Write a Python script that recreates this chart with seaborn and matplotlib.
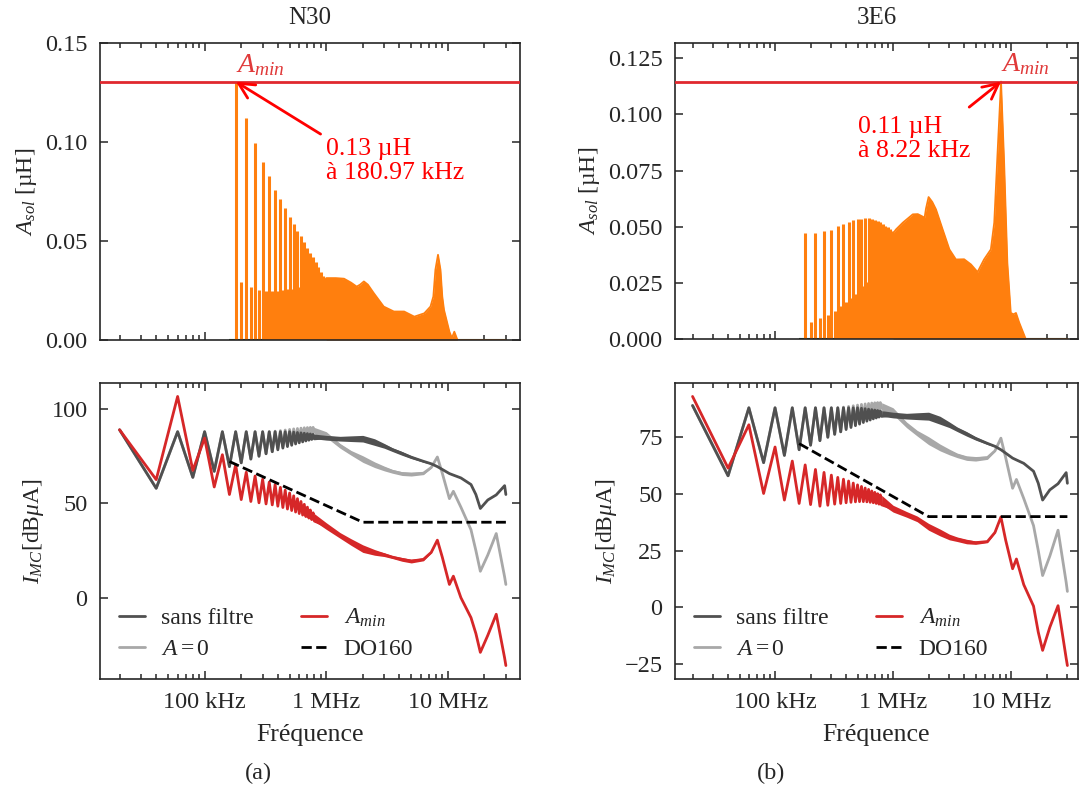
import numpy as np
import seaborn as sns
import matplotlib.pyplot as plt
from matplotlib.ticker import FixedLocator, LogLocator, NullFormatter, FormatStrFormatter

sns.set_style("ticks")
plt.rcParams["font.family"] = ["Liberation Serif", "DejaVu Serif"]
plt.rcParams["mathtext.fontset"] = "custom"
plt.rcParams["mathtext.rm"] = "Liberation Serif"
plt.rcParams["mathtext.it"] = "Liberation Serif:italic"
plt.rcParams["font.size"] = 17
plt.rcParams["axes.linewidth"] = 1.2

# ---- data -------------------------------------------------------------
# harmonics of the 20 kHz switching frequency (kHz) where the zigzag is visible
harm_khz = [20, 40, 60, 80, 100, 120, 140, 160, 180, 200, 220, 240, 260, 280,
            300, 320, 340, 360, 380, 400, 420, 440, 460, 480, 500, 520, 540,
            560, 580, 600, 620, 640, 660, 680, 700, 720, 740, 760, 780, 800]

sans_filtre = [89, 58, 88, 63.8, 88, 67, 88, 69.5, 88, 71.5, 88, 73.5, 88, 75,
               88, 76.3, 88, 77.4, 88, 78.4, 88, 79.3, 88, 80.1, 88, 80.8, 87.8,
               81.5, 87.6, 82.1, 87.4, 82.6, 87.2, 83.1, 87, 83.5, 86.8, 83.9,
               86.6, 84.2]
a_zero = [89, 58, 88, 63.8, 88, 67, 88, 69.5, 88, 71.5, 88, 73.5, 88, 75,
          88, 76.3, 88, 77.4, 88.3, 79, 88.6, 80, 88.9, 81, 89.2, 82, 89.5,
          83, 89.7, 84, 89.9, 85, 90.1, 85.8, 90.2, 86.5, 90.3, 87.2, 90.3, 87.8]
amin_n30 = [89, 62.6, 106.7, 67.5, 84.6, 58.7, 75.8, 54.7, 70.5, 52, 66.5, 51,
            64.5, 50.3, 62.8, 49.7, 61.3, 49.2, 60, 48.5, 58.5, 47.8, 57, 47,
            55.5, 46.2, 54, 45.4, 52.5, 44.6, 51, 43.8, 49.5, 43, 48, 42.2,
            46.5, 41.4, 45, 40.6]
amin_3e6 = [93, 61.4, 80.5, 50.2, 70.7, 47.3, 64.5, 45.8, 62.8, 45.3, 60.8,
            44.6, 59.5, 45, 58.3, 45.5, 57.3, 45.8, 56.5, 46.1, 55.7, 46.3,
            54.8, 46.5, 54, 46.6, 53.3, 46.6, 52.6, 46.5, 52, 46.3, 51.3, 46.1,
            50.7, 45.8, 50.1, 45.5, 49.6, 45.2]

# above 800 kHz the harmonics merge into a band: centre and band width (dB)
grid_mhz = [0.8, 1.0, 1.3, 1.6, 2.0, 2.5, 3.0, 3.5, 4.2, 5.0, 6.3, 7.3, 8.2,
            9.0, 10.3, 11.1, 12.8, 15.5, 17.0, 18.5, 21.3, 25.0, 29.3, 30.0]
sans_filtre_hf = [85.5, 84.8, 84.3, 84.3, 84.3, 82.5, 80.5, 78.5, 76.5, 74.5,
                  72.3, 71.0, 69.5, 68.0, 65.8, 65.0, 63.5, 60.0, 54.7, 47.3,
                  51.8, 54.5, 59.4, 54.7]
sans_filtre_bw = [2.5, 2.5, 2.5, 3.0, 3.5, 3.5, 2.5, 2.0, 2.0, 1.5, 1.0, 0.5,
                  0, 0, 0, 0, 0, 0, 0, 0, 0, 0, 0, 0]
a_zero_hf = [88.5, 86.5, 80.5, 76.8, 73.5, 70.5, 68.5, 67.0, 65.8, 65.5, 66.0,
             69.0, 74.6, 66.0, 52.5, 56.4, 48.0, 36.0, 25.0, 14.0, 22.6, 34.0,
             11.0, 7.0]
a_zero_bw = [3.5, 3.0, 2.5, 2.5, 3.5, 3.0, 2.5, 2.0, 2.0, 2.0, 1.5, 0.5,
             0, 0, 0, 0, 0, 0, 0, 0, 0, 0, 0, 0]
amin_n30_hf = [42.5, 38.0, 33.0, 29.5, 26.0, 24.0, 22.8, 21.5, 20.3, 19.4,
               20.3, 24.0, 30.5, 21.5, 7.0, 11.4, 0.0, -10.6, -19.0, -29.0,
               -20.0, -8.8, -32.0, -36.0]
amin_n30_bw = [4.0, 3.5, 3.0, 3.5, 4.0, 3.0, 2.0, 1.5, 2.0, 2.0, 1.5, 0.5,
               0, 0, 0, 0, 0, 0, 0, 0, 0, 0, 0, 0]
amin_3e6_hf = [47.4, 43.5, 41.0, 39.0, 35.5, 33.0, 31.0, 30.0, 29.0, 28.5,
               29.0, 33.0, 39.8, 29.6, 17.0, 21.3, 10.0, 0.5, -11.0, -19.0,
               -8.8, 0.7, -22.5, -25.7]
amin_3e6_bw = [4.0, 3.0, 2.5, 2.5, 3.0, 3.0, 2.5, 2.0, 2.0, 1.5, 1.0, 0.5,
               0, 0, 0, 0, 0, 0, 0, 0, 0, 0, 0, 0]

do160_mhz = [0.16, 2.0, 30.0]
do160_db = [72.2, 40.0, 40.0]

# A_sol spikes (µH) at the harmonics 160 kHz .. 1 MHz
spike_khz = [160, 180, 200, 220, 240, 260, 280, 300, 320, 340, 360, 380, 400,
             420, 440, 460, 480, 500, 520, 540, 560, 580, 600, 620, 640, 660,
             680, 700, 720, 740, 760, 780, 800, 820, 840, 860, 880, 900, 920,
             940, 960, 980, 1000]
asol_n30 = [0, 0.1306, 0.0291, 0.1125, 0.0266, 0.0998, 0.0254, 0.0902, 0.0249,
            0.0829, 0.0249, 0.0761, 0.025, 0.0711, 0.0252, 0.0665, 0.0256,
            0.0623, 0.026, 0.0587, 0.0265, 0.0553, 0.027, 0.0524, 0.0276,
            0.0496, 0.0282, 0.0465, 0.0288, 0.044, 0.0294, 0.0418, 0.03,
            0.0394, 0.0305, 0.037, 0.031, 0.0345, 0.0312, 0.0325, 0.0313,
            0.0315, 0.0313]
asol_3e6 = [0, 0.047, 0.0074, 0.0471, 0.0094, 0.0482, 0.0108, 0.0487, 0.0126,
            0.0503, 0.0149, 0.0513, 0.0163, 0.0521, 0.0183, 0.0528, 0.0200,
            0.0533, 0.0218, 0.0536, 0.0237, 0.0538, 0.0256, 0.0538, 0.0276,
            0.0536, 0.0297, 0.0532, 0.0318, 0.0527, 0.034, 0.052, 0.0362,
            0.0512, 0.0384, 0.0505, 0.0406, 0.0497, 0.0428, 0.0488, 0.0448,
            0.048, 0.047]

# dense part (envelope) above 1 MHz
env_n30_mhz = [1.0, 1.2, 1.4, 1.6, 1.78, 1.9, 2.04, 2.2, 2.46, 2.97, 3.6, 4.37,
               5.3, 6.4, 7.2, 7.6, 7.9, 8.3, 8.7, 9.0, 9.3, 10.3, 10.8, 11.3,
               12.0, 30.0]
env_n30 = [0.0313, 0.0313, 0.031, 0.029, 0.027, 0.028, 0.0296, 0.028, 0.0237,
           0.0169, 0.0144, 0.0144, 0.0118, 0.0135, 0.0169, 0.022, 0.0355,
           0.0431, 0.0355, 0.022, 0.0152, 0.0042, 0.001, 0.0042, 0.0, 0.0]
env_3e6_mhz = [1.0, 1.06, 1.21, 1.47, 1.62, 1.78, 1.85, 1.9, 2.0, 2.15, 2.31,
               2.63, 3.0, 3.41, 4.0, 4.57, 5.2, 5.9, 6.74, 7.2, 7.66, 8.22,
               8.73, 9.3, 9.94, 10.5, 11.0, 11.7, 13.3, 30.0]
env_3e6 = [0.047, 0.0488, 0.0518, 0.0555, 0.0556, 0.0545, 0.054, 0.058, 0.0632,
           0.061, 0.0577, 0.0488, 0.0399, 0.0354, 0.0355, 0.0332, 0.0298,
           0.0354, 0.0399, 0.0518, 0.0815, 0.1146, 0.0786, 0.0339, 0.0116,
           0.011, 0.0116, 0.0074, 0.0, 0.0]

amin_val = {"N30": 0.1306, "3E6": 0.1146}
amin_freq_khz = {"N30": 180.97, "3E6": 8220.0}
amin_text = {"N30": "0.13 µH\nà 180.97 kHz", "3E6": "0.11 µH\nà 8.22 kHz"}

# ---- figure -----------------------------------------------------------
W, H = 1083, 798
fig = plt.figure(figsize=(W / 100, H / 100), dpi=100)


def px_axes(x0, y0, x1, y1):
    return fig.add_axes([x0 / W, 1 - y1 / H, (x1 - x0) / W, (y1 - y0) / H])


ax_tl = px_axes(100, 43, 520, 340)
ax_bl = px_axes(100, 383, 520, 679)
ax_tr = px_axes(675, 43, 1078, 339)
ax_br = px_axes(675, 383, 1078, 679)

ORANGE = "#ff7f0e"
DARK = "#505050"
LIGHT = "#a8a8a8"
RED = "#d62728"

hz_harm = np.array(harm_khz) * 1e3
hz_grid = np.array(grid_mhz) * 1e6


def draw_series(ax, low, hf, bw, color, label, z):
    x = np.concatenate([hz_harm, hz_grid[1:]])
    y = np.concatenate([low, hf[1:]])
    sns.lineplot(x=x, y=y, ax=ax, color=color, lw=2, label=label,
                 sort=False, estimator=None, zorder=z)
    c, w = np.array(hf), np.array(bw)
    ax.fill_between(hz_grid, c - w / 2, c + w / 2, color=color, lw=0, zorder=z)


panels = [
    ("N30", ax_tl, ax_bl, asol_n30, env_n30_mhz, env_n30, amin_n30,
     amin_n30_hf, amin_n30_bw, (13.8e3, 39.2e6), "%.2f",
     [0, 0.05, 0.10, 0.15], [0, 50, 100], (1e6, 0.0906), (0.0, 1.0)),
    ("3E6", ax_tr, ax_br, asol_3e6, env_3e6_mhz, env_3e6, amin_3e6,
     amin_3e6_hf, amin_3e6_bw, (14.2e3, 36.9e6), "%.3f",
     [0, 0.025, 0.05, 0.075, 0.10, 0.125], [-25, 0, 25, 50, 75],
     (5.05e5, 0.089), (0.97, 1.15)),
]

for (name, axt, axb, asol, env_mhz, env, amin_low, amin_hf, amin_bw, xlim,
     yfmt, yt_top, yt_bot, txt_pos, relpos) in panels:
    # top: A_sol spectrum
    axt.set_xscale("log")
    axt.hlines(0, 160e3, 30e6, color="#1e4620", lw=1.5, zorder=1)
    axt.vlines(np.array(spike_khz) * 1e3, 0, asol, color=ORANGE, lw=2.2, zorder=2)
    env_hz = np.array(env_mhz) * 1e6
    axt.fill_between(env_hz, 0, env, color=ORANGE, lw=0, zorder=2)
    sns.lineplot(x=env_hz, y=env, ax=axt, color=ORANGE, lw=1.3,
                 sort=False, estimator=None, zorder=2.1)
    a = amin_val[name]
    axt.axhline(a, color="#e0282e", lw=2, zorder=3)
    fk = amin_freq_khz[name] * 1e3
    axt.text(fk, a + 0.002, r"$A_{min}$", color="#e03a3a", ha="left",
             va="bottom", fontsize=20)
    axt.annotate(amin_text[name], xy=(fk, a), xytext=txt_pos, color="red",
                 ha="left", va="center", fontsize=18.5, linespacing=1.15,
                 arrowprops=dict(arrowstyle="->,head_length=0.6,head_width=0.3",
                                 color="red", lw=2, relpos=relpos,
                                 shrinkA=2, shrinkB=0))
    axt.set_ylim(0, 1.15 * a)
    axt.set_yticks(yt_top)
    axt.yaxis.set_major_formatter(FormatStrFormatter(yfmt))
    axt.set_ylabel(r"$A_{sol}$ [µH]", fontsize=17)
    axt.set_title(name, fontsize=18, pad=14)

    # bottom: common-mode current
    axb.set_xscale("log")
    draw_series(axb, sans_filtre, sans_filtre_hf, sans_filtre_bw, DARK,
                "sans filtre", 2.0)
    draw_series(axb, a_zero, a_zero_hf, a_zero_bw, LIGHT, r"$A=0$", 1.8)
    draw_series(axb, amin_low, amin_hf, amin_bw, RED, r"$A_{min}$", 2.2)
    sns.lineplot(x=np.array(do160_mhz) * 1e6, y=do160_db, ax=axb, color="black",
                 lw=2, ls="--", label="DO160", sort=False, estimator=None,
                 zorder=2.3)
    axb.set_yticks(yt_bot)
    axb.set_ylabel(r"$I_{MC}[\mathrm{dB}\mu\mathrm{A}]$", fontsize=17)
    axb.set_xlabel("Fréquence", fontsize=18.5, labelpad=8)
    axb.legend(loc="lower left", ncol=2, frameon=False, fontsize=17,
               handlelength=1.1, handletextpad=0.7, columnspacing=2.0,
               labelspacing=0.4, borderaxespad=0.4)

    for ax in (axt, axb):
        ax.set_xlim(*xlim)
        ax.xaxis.set_major_locator(FixedLocator([1e5, 1e6, 1e7]))
        ax.xaxis.set_minor_locator(LogLocator(base=10, subs=range(2, 10)))
        ax.xaxis.set_minor_formatter(NullFormatter())
        ax.tick_params(which="both", direction="in", top=True, right=True,
                       labelsize=17.5, width=1.1, pad=9)
        ax.tick_params(which="major", length=6)
        ax.tick_params(which="minor", length=3.5)
    axt.tick_params(labelbottom=False)
    axb.set_xticklabels(["100 kHz", "1 MHz", "10 MHz"])

fig.text(258 / W, 1 - 773 / H, "(a)", ha="center", va="center", fontsize=17.5)
fig.text(771 / W, 1 - 773 / H, "(b)", ha="center", va="center", fontsize=17.5)

fig.savefig("out.png", dpi=100)
